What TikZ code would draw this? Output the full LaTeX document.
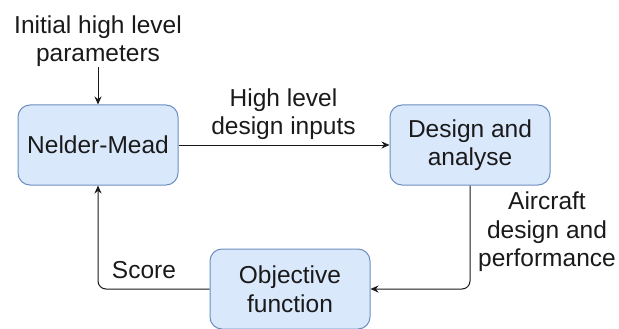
\documentclass[tikz,border=0pt]{standalone}
\usepackage{fontspec}
\setmainfont{Liberation Sans}
\usetikzlibrary{arrows.meta, positioning}
\definecolor{boxfill}{HTML}{DAE8FC}
\definecolor{boxline}{HTML}{6C8EBF}
\definecolor{ink}{HTML}{1A1A1A}
\tikzstyle{block} = [
    rectangle,
    rounded corners=12pt,
    minimum width=160pt,
    minimum height=80pt,
    inner sep=0pt,
    align=center,
    fill=boxfill,
    draw=boxline,
    line width=1pt
]
\tikzstyle{label} = [
    align=center,
    inner sep=0pt
]
\tikzstyle{arrow} = [line width=1pt, draw=ink, -{Stealth[length=8pt,width=7pt]}, rounded corners=8pt]

\begin{document}
\begin{tikzpicture}[x=1pt, y=-1pt, font=\fontsize{24.5}{28.5}\selectfont, text=ink]

\useasboundingbox (0,0) rectangle (619,329);

\node (nm) [block] at (98,145) {Nelder-Mead};

\node (design) [block, right=211pt of nm] {Design and\\analyse};

\node (obj) [block] at (290,289) {Objective\\function};

\node (init) [label] at (98,41) {Initial high level\\parameters};

\node (inputs) [label] at (283.5,114) {High level\\design inputs};

\node (perf) [label] at (547,232) {Aircraft\\design and\\performance};

\node (score) [label] at (144,270) {Score};

\draw [arrow] (init) -- (nm);
\draw [arrow] (nm) -- (design);
\draw [arrow] (design.south) |- (obj.east);
\draw [arrow] (obj.west) -| (nm.south);

\end{tikzpicture}
\end{document}
